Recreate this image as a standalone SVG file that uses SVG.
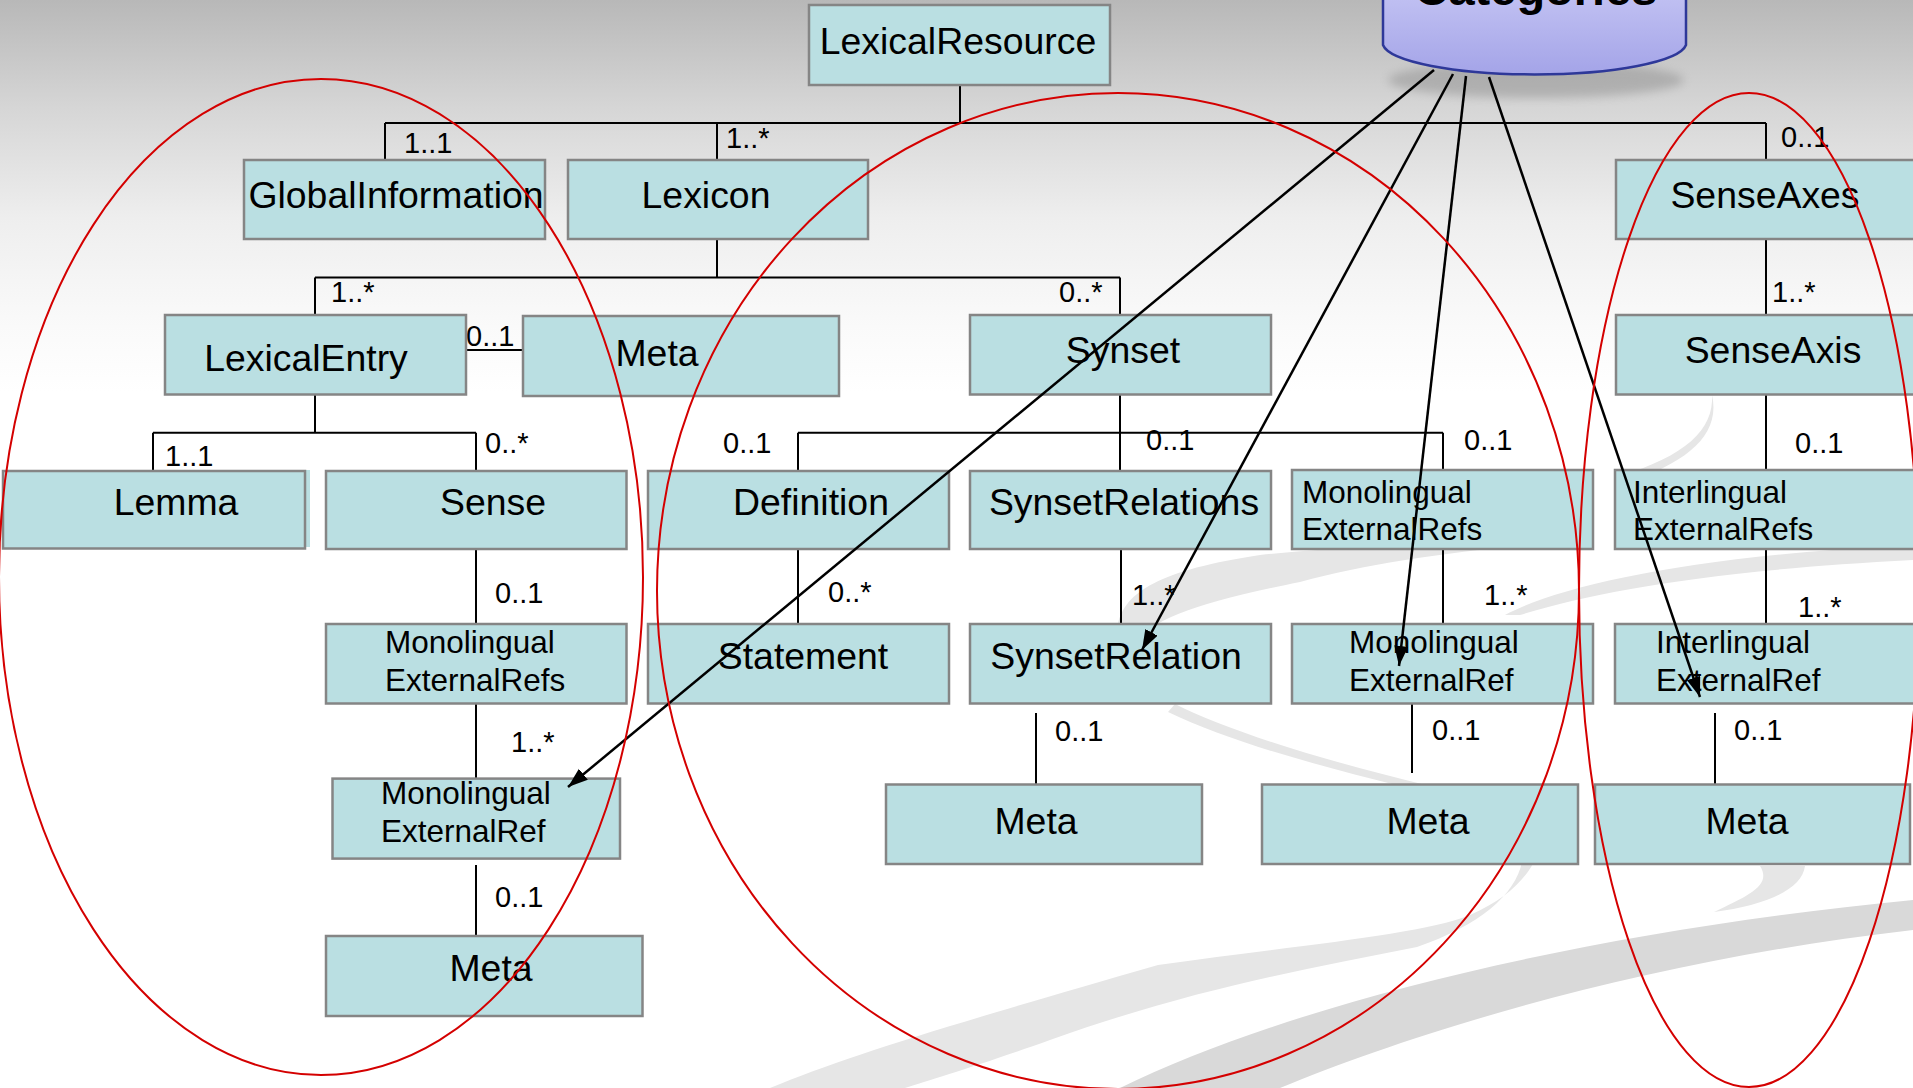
<svg xmlns="http://www.w3.org/2000/svg" width="1913" height="1088" viewBox="0 0 1913 1088">
<defs>
<linearGradient id="bg" x1="0" y1="0" x2="0" y2="1088" gradientUnits="userSpaceOnUse">
<stop offset="0" stop-color="#b8b8b8"/>
<stop offset="0.1" stop-color="#d6d6d6"/>
<stop offset="0.2" stop-color="#eeeeee"/>
<stop offset="0.3" stop-color="#fafafa"/>
<stop offset="0.36" stop-color="#ffffff"/>
</linearGradient>
<linearGradient id="cyl" x1="0" y1="0" x2="0" y2="1">
<stop offset="0" stop-color="#c6c6f4"/>
<stop offset="1" stop-color="#a4a4e8"/>
</linearGradient>
<filter id="shadow" x="-20%" y="-50%" width="140%" height="200%">
<feGaussianBlur stdDeviation="5"/>
</filter>
<marker id="arr" markerUnits="userSpaceOnUse" markerWidth="22" markerHeight="16" refX="20" refY="7" orient="auto">
<path d="M0,0 L20,7 L0,14 Z" fill="#000"/>
</marker>
<style>
.box{fill:#badfe2;stroke:#858585;stroke-width:2.5}
.t{font-family:"Liberation Sans",Arial,sans-serif;font-size:37.4px;fill:#000;text-anchor:middle}
.t2{font-family:"Liberation Sans",Arial,sans-serif;font-size:31.5px;fill:#000}
.m{font-family:"Liberation Sans",Arial,sans-serif;font-size:29px;fill:#000}
.c{fill:none;stroke:#000;stroke-width:2}
.a{fill:none;stroke:#000;stroke-width:2.5;marker-end:url(#arr)}
.e{fill:none;stroke:#d40000;stroke-width:2}
.sw{fill:#e6e6e6}
.sw2{fill:#d9d9d9}
</style>
</defs>
<rect x="0" y="0" width="1913" height="1088" fill="url(#bg)"/>
<g id="swirls">
<path class="sw" d="M770,1088 C850,1055 950,1025 1158,965 C1300,945 1420,935 1470,915 C1505,900 1525,880 1535,860 L1522,862 C1515,895 1480,925 1417,947 C1300,970 1190,990 1050,1040 C980,1065 930,1080 905,1088 Z"/>
<path class="sw2" d="M1120,1088 C1300,1000 1600,930 1913,900 L1913,930 C1650,960 1420,1030 1280,1088 Z"/>
<path class="sw" d="M1714,912 C1750,895 1772,885 1760,866 L1805,866 C1802,890 1765,905 1714,912 Z"/>
<path class="sw" d="M1175,704 C1230,732 1330,762 1430,786 L1400,786 C1320,766 1230,742 1168,712 Z"/>
<path class="sw" d="M1118,624 C1125,592 1160,570 1260,555 C1360,545 1480,540 1590,540 C1480,548 1380,560 1300,582 C1200,602 1150,620 1140,640 Z"/>
<path class="sw" d="M1505,615 C1560,585 1700,555 1913,545 L1913,560 C1720,570 1600,590 1520,615 Z"/>
<path class="sw" d="M1712,395 C1714,430 1685,456 1620,476 L1645,476 C1695,456 1720,430 1712,395 Z"/>
</g>
<g id="categories">
<ellipse cx="1536" cy="80" rx="148" ry="18" fill="#666" opacity="0.3" filter="url(#shadow)"/>
<path d="M1383,-20 L1383,45 A152,32 0 0 0 1686,45 L1686,-20 Z" fill="url(#cyl)" stroke="#2e3899" stroke-width="2.5"/>
<text x="1536" y="5" font-family="'Liberation Sans',Arial,sans-serif" font-size="47" font-weight="bold" text-anchor="middle">Categories</text>
</g>
<g id="connectors">
<path class="c" d="M960,85 V123 M385,123 H1766 M385,123 V160 M717,123 V160 M1766,123 V160"/>
<path class="c" d="M717,239 V277.6 M315,277.6 H1120 M315,277.6 V315 M1120,277.6 V315"/>
<path class="c" d="M461,350 H522"/>
<path class="c" d="M315,394.5 V432.7 M153,432.7 H476 M153,432.7 V471 M476,432.7 V471"/>
<path class="c" d="M1120,394.5 V432.7 M798,432.7 H1443 M798,432.7 V471 M1120,432.7 V471 M1443,432.7 V471"/>
<path class="c" d="M1766,239 V315 M1766,394.5 V471 M1766,549 V624"/>
<path class="c" d="M476,549 V624 M476,703.6 V778.6 M476,865 V939"/>
<path class="c" d="M798,549 V624 M1121,549 V624 M1443,549 V624"/>
<path class="c" d="M1036,713 V788 M1412,698 V773 M1715,713 V788"/>
<g class="m">
<text x="404" y="153">1..1</text>
<text x="726" y="148">1..*</text>
<text x="1781" y="147">0..1</text>
<text x="331" y="302">1..*</text>
<text x="1059" y="302">0..*</text>
<text x="466" y="346">0..1</text>
<text x="1772" y="302">1..*</text>
<text x="165" y="466">1..1</text>
<text x="485" y="453">0..*</text>
<text x="723" y="453">0..1</text>
<text x="1146" y="450">0..1</text>
<text x="1464" y="450">0..1</text>
<text x="1795" y="453">0..1</text>
<text x="495" y="603">0..1</text>
<text x="828" y="602">0..*</text>
<text x="1132" y="605">1..*</text>
<text x="1484" y="605">1..*</text>
<text x="1798" y="617">1..*</text>
<text x="511" y="752">1..*</text>
<text x="495" y="907">0..1</text>
<text x="1055" y="741">0..1</text>
<text x="1432" y="740">0..1</text>
<text x="1734" y="740">0..1</text>
</g>
</g>
<g id="n-lexicalresource"><rect class="box" x="809" y="5" width="301" height="80"/><text class="t" x="958" y="54">LexicalResource</text></g>
<g id="n-globalinformation"><rect class="box" x="244" y="160" width="301" height="79"/><text class="t" x="396" y="208">GlobalInformation</text></g>
<g id="n-lexicon"><rect class="box" x="568" y="160" width="300" height="79"/><text class="t" x="706" y="208">Lexicon</text></g>
<g id="n-senseaxes"><rect class="box" x="1616" y="160" width="320" height="79"/><text class="t" x="1765" y="208">SenseAxes</text></g>
<g id="n-lexicalentry"><rect class="box" x="165" y="315" width="301" height="79.5"/><text class="t" x="306" y="371">LexicalEntry</text></g>
<g id="n-meta-lexicon"><rect class="box" x="523" y="316" width="316" height="80"/><text class="t" x="657" y="366">Meta</text></g>
<g id="n-synset"><rect class="box" x="970" y="315" width="301" height="79.5"/><text class="t" x="1123" y="363">Synset</text></g>
<g id="n-senseaxis"><rect class="box" x="1616" y="315" width="320" height="79.5"/><text class="t" x="1773" y="363">SenseAxis</text></g>
<g id="n-lemma"><rect x="300" y="470" width="10" height="77" fill="#badfe2"/><rect class="box" x="3" y="471" width="302" height="77.5"/><text class="t" x="176" y="515">Lemma</text></g>
<g id="n-sense"><rect class="box" x="326" y="471" width="300.5" height="78"/><text class="t" x="493" y="515">Sense</text></g>
<g id="n-definition"><rect class="box" x="648" y="471" width="301" height="78"/><text class="t" x="811" y="515">Definition</text></g>
<g id="n-synsetrelations"><rect class="box" x="970" y="471" width="301" height="78"/><text class="t" x="1124" y="515">SynsetRelations</text></g>
<g id="n-mono-refs-synset"><rect class="box" x="1292" y="470" width="301" height="79"/><text class="t2" x="1302" y="503">Monolingual</text><text class="t2" x="1302" y="540">ExternalRefs</text></g>
<g id="n-inter-refs"><rect class="box" x="1615" y="470" width="320" height="79"/><text class="t2" x="1633" y="503">Interlingual</text><text class="t2" x="1633" y="540">ExternalRefs</text></g>
<g id="n-mono-refs-sense"><rect class="box" x="326" y="624" width="300.5" height="79.5"/><text class="t2" x="385" y="653">Monolingual</text><text class="t2" x="385" y="691">ExternalRefs</text></g>
<g id="n-statement"><rect class="box" x="648" y="624" width="301" height="79.5"/><text class="t" x="803" y="669">Statement</text></g>
<g id="n-synsetrelation"><rect class="box" x="970" y="624" width="301" height="79.5"/><text class="t" x="1116" y="669">SynsetRelation</text></g>
<g id="n-mono-ref-synset"><rect class="box" x="1292" y="624" width="301" height="79.5"/><text class="t2" x="1349" y="653">Monolingual</text><text class="t2" x="1349" y="691">ExternalRef</text></g>
<g id="n-inter-ref"><rect class="box" x="1615" y="624" width="320" height="79.5"/><text class="t2" x="1656" y="653">Interlingual</text><text class="t2" x="1656" y="691">ExternalRef</text></g>
<g id="n-mono-ref-sense"><rect class="box" x="332.5" y="778.6" width="287.5" height="80"/><text class="t2" x="381" y="804">Monolingual</text><text class="t2" x="381" y="842">ExternalRef</text></g>
<g id="n-meta-sense"><rect class="box" x="326" y="936" width="316.5" height="80"/><text class="t" x="491" y="981">Meta</text></g>
<g id="n-meta-synsetrelation"><rect class="box" x="886" y="784.5" width="316" height="79.5"/><text class="t" x="1036" y="834">Meta</text></g>
<g id="n-meta-mono"><rect class="box" x="1262" y="784.5" width="316" height="79.5"/><text class="t" x="1428" y="834">Meta</text></g>
<g id="n-meta-inter"><rect class="box" x="1595" y="784.5" width="315" height="79.5"/><text class="t" x="1747" y="834">Meta</text></g>
<g id="category-arrows">
<path class="a" d="M1434,70 L568,787"/>
<path class="a" d="M1453,74 L1142,650"/>
<path class="a" d="M1466,76 L1399,666"/>
<path class="a" d="M1489,77 L1700,697"/>
</g>
<g id="groupings">
<ellipse class="e" cx="321" cy="577" rx="322" ry="498"/>
<ellipse class="e" cx="1118" cy="591" rx="461" ry="498"/>
<ellipse class="e" cx="1749" cy="590" rx="170" ry="497"/>
</g>
</svg>
